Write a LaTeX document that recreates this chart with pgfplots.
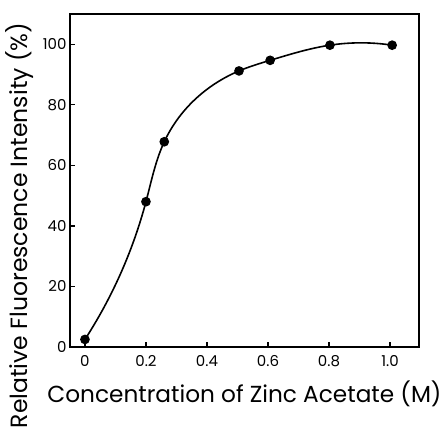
\documentclass[border=0pt]{standalone}
\usepackage{fontspec}
\setmainfont{Poppins}
\usepackage{pgfplots}
\pgfplotsset{compat=1.18}
\usetikzlibrary{hobby}

\begin{document}
\begin{tikzpicture}
\begin{axis}[
    scale only axis,
    width=349pt, height=333pt,
    xmin=-0.049, xmax=1.095,
    ymin=0, ymax=110,
    axis line style={line width=1.4pt},
    xtick={0,0.2,0.4,0.6,0.8,1.0},
    xticklabels={0,0.2,0.4,0.6,0.8,1.0},
    ytick={0,20,40,60,80,100},
    tick align=inside,
    xtick pos=bottom, ytick pos=left,
    major tick length=5pt,
    tick style={line width=1.2pt, black},
    ticklabel style={font=\fontsize{15}{17}\selectfont},
    xticklabel style={yshift=-5pt},
    /pgf/number format/assume math mode=true,
    xlabel={Concentration of Zinc Acetate (M)},
    ylabel={Relative Fluorescence Intensity (\%)},
    xlabel style={font=\fontsize{23.2}{26}\selectfont, yshift=-7pt},
    ylabel style={font=\fontsize{23.5}{26}\selectfont, at={(ticklabel cs:0.365)}, yshift=2pt},
  ]
  \addplot[black, line width=1.6pt, hobby,
           mark=*, mark size=4pt] coordinates {
    (0,2.5) (0.2,48) (0.26,67.8) (0.505,91.2) (0.607,94.7) (0.803,99.7) (1.007,99.7)
  };
\end{axis}
\path ([xshift=-70pt,yshift=14pt]current axis.north west)
      ([xshift=26pt,yshift=-80pt]current axis.south east);
\end{tikzpicture}
\end{document}
